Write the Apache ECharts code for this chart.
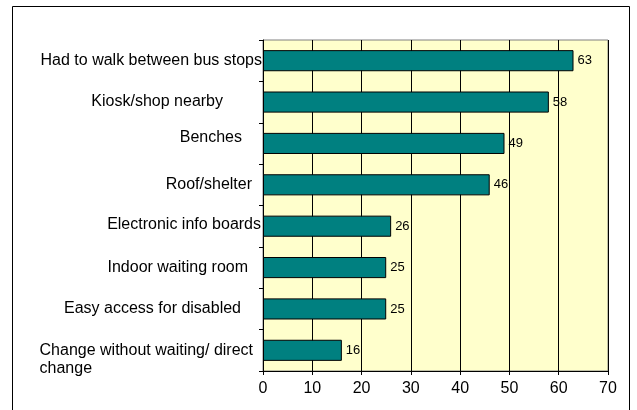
<!DOCTYPE html>
<html>
<head>
<meta charset="utf-8">
<script src="https://cdn.jsdelivr.net/npm/echarts@6/dist/echarts.min.js"></script>
<style>html,body{margin:0;padding:0;background:#fff}#c{width:637px;height:410px}</style>
</head>
<body>
<div id="c"></div>
<script>
const categories = ['Had to walk between bus stops', 'Kiosk/shop nearby', 'Benches', 'Roof/shelter',
  'Electronic info boards', 'Indoor waiting room', 'Easy access for disabled', 'Change without waiting/ direct\nchange'];
const values = [63, 58, 49, 46, 26, 25, 25, 16];
const xMin = 0, xMax = 70, xStep = 10;

// label layout tweaks (style only)
const labelPadRight = [0, 39, 20, 10, 1, 14, 21, 9];
const labelShiftUp = [0, 0, 6, 0, 2, 0, 0, 0];

const FONT = 'Liberation Sans, Arial, sans-serif';
const rich = { e: { fontSize: 16, lineHeight: 18, fontFamily: FONT } };
categories.forEach((c, i) => {
  rich['c' + i] = {
    fontSize: 16, fontFamily: FONT, color: '#000', align: 'left', lineHeight: 18,
    padding: [0, labelPadRight[i], labelShiftUp[i] * 2, 0]
  };
});

const chart = echarts.init(document.getElementById('c'), null, { renderer: 'canvas' });
chart.setOption({
  animation: false,
  backgroundColor: '#fff',
  textStyle: { fontFamily: FONT },
  graphic: [{
    type: 'rect', silent: true, z: -10,
    shape: { x: 12.5, y: 6.5, width: 617, height: 430 },
    style: { fill: 'none', stroke: '#000', lineWidth: 1 }
  }],
  grid: {
    left: 263, top: 40, right: 29, bottom: 39,
    show: true, backgroundColor: '#FFFFCC', borderColor: '#808080', borderWidth: 1
  },
  xAxis: {
    type: 'value', min: xMin, max: xMax, interval: xStep,
    axisLine: { show: true, lineStyle: { color: '#000', width: 1 } },
    axisTick: { show: true, length: 4, lineStyle: { color: '#000' } },
    axisLabel: { fontSize: 16, color: '#000', margin: 10, fontFamily: FONT },
    splitLine: { show: true, lineStyle: { color: '#000', width: 1 } }
  },
  yAxis: {
    type: 'category', inverse: true, data: categories,
    axisLine: { show: true, lineStyle: { color: '#000', width: 1 } },
    axisTick: { show: true, length: 4, alignWithLabel: false, lineStyle: { color: '#000' } },
    axisLabel: {
      margin: 1, fontSize: 16, color: '#000', fontFamily: FONT, interval: 0,
      formatter: function (value, idx) {
        const lines = value.split('\n');
        let s = lines.map(l => '{c' + idx + '|' + l + '}').join('\n');
        if (lines.length > 1) s = '{e| }\n' + s;
        return s;
      },
      rich: rich
    },
    splitLine: { show: false }
  },
  series: [{
    type: 'bar', data: values, barCategoryGap: '49%',
    itemStyle: { color: '#008080', borderColor: '#000', borderWidth: 1 },
    label: { show: true, position: 'right', distance: 4, fontSize: 13, color: '#000', fontFamily: FONT }
  }]
});
</script>
</body>
</html>
